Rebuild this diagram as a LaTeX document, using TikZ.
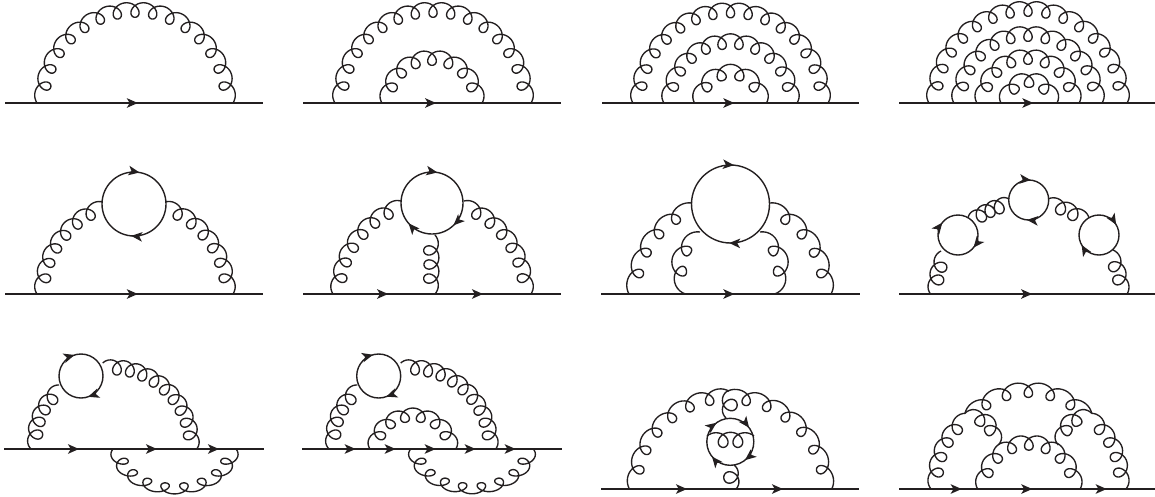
\documentclass[tikz,border=0pt]{standalone}
\usetikzlibrary{arrows.meta,decorations.markings}
\definecolor{ink}{HTML}{231F20}
\makeatletter
% \gluon[flatten]{a}{b}{sweep}{loops}: loops on the concave side, a to b clockwise
\newcommand\gluon[5][1]{%
  \pgfpointanchor{#2}{center}\pgfgetlastxy{\gax}{\gay}%
  \pgfpointanchor{#3}{center}\pgfgetlastxy{\gbx}{\gby}%
  \pgfmathsetmacro\gAx{\strip@pt\dimexpr\gax\relax}%
  \pgfmathsetmacro\gAy{\strip@pt\dimexpr\gay\relax}%
  \pgfmathsetmacro\gBx{\strip@pt\dimexpr\gbx\relax}%
  \pgfmathsetmacro\gBy{\strip@pt\dimexpr\gby\relax}%
  \pgfmathsetmacro\gC{veclen(\gBx-\gAx,\gBy-\gAy)}%
  \pgfmathsetmacro\gR{\gC/(2*sin(#4/2))}%
  \pgfmathsetmacro\gH{\gR*cos(#4/2)}%
  \pgfmathsetmacro\gcx{(\gAx+\gBx)/2+\gH*((\gBy-\gAy)/\gC)}%
  \pgfmathsetmacro\gcy{(\gAy+\gBy)/2-\gH*((\gBx-\gAx)/\gC)}%
  \pgfmathsetmacro\gst{atan2(\gAy-\gcy,\gAx-\gcx)}%
  \pgfmathsetmacro\gB{7.5}%
  \pgfmathsetmacro\gRc{\gR-\gB*cos(50)}%
  \pgfmathsetmacro\gunits{#5+100/360}%
  \pgfmathsetmacro\gpz{\gRc*(#4/180)*pi/\gunits}%
  \pgfmathsetmacro\gA{\gpz/6.2832+5.0}%
  \pgfmathsetmacro\goff{deg(\gA/\gR)*sin(50)}%
  \pgfmathsetmacro\gdelta{(#4-2*\goff)/\gunits}%
  \pgfmathsetmacro\gmax{360*#5+50}%
  \pgfmathtruncatemacro\gsam{28*#5+5}%
  \draw[gluonline] plot[smooth,domain=-50:\gmax,samples=\gsam,variable=\t]
    ({(\gcx+(\gRc+\gB*cos(\t))*cos(\gst-\goff-\gdelta*((\t+50)/360)-deg(\gA/(\gRc+\gB*cos(\t)))*sin(\t)))*1pt},
     {(\gcy+#1*(\gRc+\gB*cos(\t))*sin(\gst-\goff-\gdelta*((\t+50)/360)-deg(\gA/(\gRc+\gB*cos(\t)))*sin(\t)))*1pt});%
}
\makeatother
\tikzset{
  x=1pt,y=1pt,
  gluonline/.style={line width=1.35pt,ink,line join=round},
  fermion/.style={line width=1.6pt,ink},
  loopline/.style={line width=1.4pt,ink},
  tipfwd/.style={postaction={decorate,decoration={markings,
    mark=at position #1 with {\arrow[ink]{Stealth[length=11pt,width=9.5pt,inset=2.8pt]}}}}},
  tipcw/.style={postaction={decorate,decoration={markings,
    mark=at position #1/360 with {\arrowreversed[ink]{Stealth[length=11pt,width=9.5pt,inset=2.8pt]}}}}},
}
\begin{document}
\begin{tikzpicture}
\useasboundingbox (0,-496) rectangle (1155,0);
% --- row 1
\coordinate (l1a) at (5,-103); \coordinate (l1b) at (263,-103);
\coordinate (g1a) at (37,-103); \coordinate (g1b) at (233,-103);
\draw[fermion,tipfwd=0.515] (l1a) -- (l1b);
\gluon{g1a}{g1b}{180}{15}
\coordinate (l2a) at (303,-103); \coordinate (l2b) at (561,-103);
\coordinate (g2a) at (335,-103); \coordinate (g2b) at (531,-103);
\coordinate (g2c) at (382,-103); \coordinate (g2d) at (482,-103);
\draw[fermion,tipfwd=0.516] (l2a) -- (l2b);
\gluon{g2a}{g2b}{180}{15}
\gluon{g2c}{g2d}{180}{7}
\coordinate (l3a) at (602,-103); \coordinate (l3b) at (859,-103);
\coordinate (g3a) at (633,-103); \coordinate (g3b) at (828,-103);
\coordinate (g3c) at (664,-103); \coordinate (g3d) at (797,-103);
\coordinate (g3e) at (694.5,-103); \coordinate (g3f) at (766.5,-103);
\draw[fermion,tipfwd=0.515] (l3a) -- (l3b);
\gluon{g3a}{g3b}{180}{15}
\gluon{g3c}{g3d}{180}{10}
\gluon{g3e}{g3f}{180}{4}
\coordinate (l4a) at (899,-103); \coordinate (l4b) at (1155,-103);
\coordinate (g4a) at (929,-103); \coordinate (g4b) at (1127,-103);
\coordinate (g4c) at (954,-103); \coordinate (g4d) at (1102,-103);
\coordinate (g4e) at (977,-103); \coordinate (g4f) at (1079,-103);
\coordinate (g4g) at (1001,-103); \coordinate (g4h) at (1057,-103);
\draw[fermion,tipfwd=0.525] (l4a) -- (l4b);
\gluon{g4a}{g4b}{180}{15}
\gluon{g4c}{g4d}{180}{11}
\gluon{g4e}{g4f}{180}{7}
\gluon{g4g}{g4h}{180}{3}
% --- row 2
\coordinate (l5a) at (5,-294); \coordinate (l5b) at (263,-294);
\coordinate (g5a) at (37,-294); \coordinate (g5b) at (233,-294);
\coordinate (c5) at (134,-204); \coordinate (c5l) at (102.7,-202); \coordinate (c5r) at (165.3,-202);
\draw[fermion,tipfwd=0.515] (l5a) -- (l5b);
\draw[loopline,tipcw=80,tipcw=265] (c5) circle[radius=32];
\gluon{g5a}{c5l}{71}{6}
\gluon{c5r}{g5b}{71}{6}
\coordinate (l6a) at (303,-294); \coordinate (l6b) at (561,-294);
\coordinate (g6a) at (333,-294); \coordinate (g6m) at (435,-294); \coordinate (g6b) at (531,-294);
\coordinate (c6) at (432,-203); \coordinate (c6l) at (401,-201); \coordinate (c6r) at (464,-201);
\coordinate (c6b) at (435,-235);
\draw[fermion,tipfwd=0.33,tipfwd=0.6977] (l6a) -- (l6b);
\draw[loopline,tipcw=80,tipcw=314,tipcw=221] (c6) circle[radius=31];
\gluon{g6a}{c6l}{71}{6}
\gluon{c6r}{g6b}{71}{6}
\gluon{c6b}{g6m}{10}{3}
\coordinate (l7a) at (601,-294); \coordinate (l7b) at (860,-294);
\coordinate (g7a) at (629,-294); \coordinate (g7b) at (831,-294);
\coordinate (g7c) at (685.5,-294); \coordinate (g7d) at (774.5,-294);
\coordinate (c7) at (730.5,-204); \coordinate (c7l) at (691.6,-203); \coordinate (c7r) at (770,-203);
\coordinate (c7p) at (700,-232); \coordinate (c7q) at (760,-232);
\draw[fermion,tipfwd=0.515] (l7a) -- (l7b);
\draw[loopline,tipcw=85,tipcw=268] (c7) circle[radius=39];
\gluon{g7a}{c7l}{70}{4}
\gluon{c7r}{g7b}{70}{4}
\gluon{g7c}{c7p}{120}{2}
\gluon{c7q}{g7d}{120}{2}
\coordinate (l8a) at (899,-294); \coordinate (l8b) at (1155,-294);
\coordinate (g8a) at (930.5,-294); \coordinate (g8b) at (1127,-294);
\coordinate (c8a) at (958,-235); \coordinate (c8b) at (1028.7,-200); \coordinate (c8c) at (1099,-235);
\coordinate (c8ap) at (941,-251); \coordinate (c8aq) at (968,-218);
\coordinate (c8bp) at (1009,-199); \coordinate (c8bq) at (1048,-199);
\coordinate (c8cp) at (1089,-218); \coordinate (c8cq) at (1113,-250);
\draw[fermion,tipfwd=0.52] (l8a) -- (l8b);
\draw[loopline,tipcw=142,tipcw=321] (c8a) circle[radius=20];
\draw[loopline,tipcw=84,tipcw=265] (c8b) circle[radius=20];
\draw[loopline,tipcw=31,tipcw=210] (c8c) circle[radius=20];
\gluon{g8a}{c8ap}{30}{2}
\gluon{c8aq}{c8bp}{30}{3}
\gluon{c8bq}{c8cp}{30}{2}
\gluon{c8cq}{g8b}{30}{2}
% --- row 3
\coordinate (l9a) at (4,-449); \coordinate (l9b) at (264,-449);
\coordinate (g9a) at (31,-449); \coordinate (g9b) at (196.7,-449);
\coordinate (g9c) at (236,-449); \coordinate (g9d) at (113,-449);
\coordinate (c9) at (81,-376); \coordinate (c9l) at (59,-385); \coordinate (c9r) at (102.7,-363);
\draw[fermion,tipfwd=0.2885,tipfwd=0.5885,tipfwd=0.8269] (l9a) -- (l9b);
\draw[loopline,tipcw=107,tipcw=289] (c9) circle[radius=22];
\gluon{g9a}{c9l}{65}{4}
\gluon{c9r}{g9b}{97}{9}
\gluon[0.7]{g9c}{g9d}{180}{8}
\coordinate (l10a) at (302,-449); \coordinate (l10b) at (562,-449);
\coordinate (g10a) at (329,-449); \coordinate (g10b) at (495.7,-449);
\coordinate (g10c) at (370,-449); \coordinate (g10d) at (455.7,-449);
\coordinate (g10e) at (533.3,-449); \coordinate (g10f) at (410.7,-449);
\coordinate (c10) at (378.7,-376); \coordinate (c10l) at (357.3,-385); \coordinate (c10r) at (400.7,-363);
\draw[fermion,tipfwd=0.2065,tipfwd=0.3604,tipfwd=0.5142,tipfwd=0.6681,tipfwd=0.8219] (l10a) -- (l10b);
\draw[loopline,tipcw=105,tipcw=290] (c10) circle[radius=22];
\gluon{g10a}{c10l}{65}{4}
\gluon{c10r}{g10b}{97}{9}
\gluon[0.9]{g10c}{g10d}{180}{6}
\gluon[0.7]{g10e}{g10f}{180}{8}
\coordinate (l11a) at (601,-489); \coordinate (l11b) at (859,-489);
\coordinate (g11a) at (629.3,-489); \coordinate (g11b) at (831.7,-489);
\coordinate (g11m) at (736,-489); \coordinate (j11l) at (729,-391); \coordinate (j11r) at (726,-392);
\coordinate (c11) at (730.3,-441.8); \coordinate (c11t) at (726,-418); \coordinate (c11b) at (734,-465);
\coordinate (i11a) at (707,-436); \coordinate (i11b) at (754,-436);
\draw[fermion,tipfwd=0.3333,tipfwd=0.7054] (l11a) -- (l11b);
\draw[loopline,tipcw=37,tipcw=126,tipcw=219,tipcw=309] (c11) circle[radius=23.5];
\gluon{g11a}{j11l}{90}{6}
\gluon{j11r}{g11b}{90}{6}
\gluon{c11t}{j11r}{20}{1}
\gluon{c11b}{g11m}{20}{1}
\gluon{i11a}{i11b}{10}{2}
\coordinate (l12a) at (899,-489); \coordinate (l12b) at (1155,-489);
\coordinate (g12a) at (931,-489); \coordinate (g12b) at (1126,-489);
\coordinate (g12c) at (977.7,-489); \coordinate (g12d) at (1080,-489);
\coordinate (t12l) at (965,-413.3); \coordinate (t12r) at (1091.7,-413.3);
\coordinate (m12l) at (998.3,-445); \coordinate (m12r) at (1058.3,-445);
\draw[fermion,tipfwd=0.2449,tipfwd=0.5207,tipfwd=0.8113] (l12a) -- (l12b);
\gluon{g12a}{t12l}{60}{4}
\gluon{t12l}{t12r}{96}{5}
\gluon{t12r}{g12b}{60}{4}
\gluon{t12l}{m12l}{120}{2}
\gluon{m12r}{t12r}{120}{2}
\gluon{g12c}{g12d}{180}{7}
\end{tikzpicture}
\end{document}
